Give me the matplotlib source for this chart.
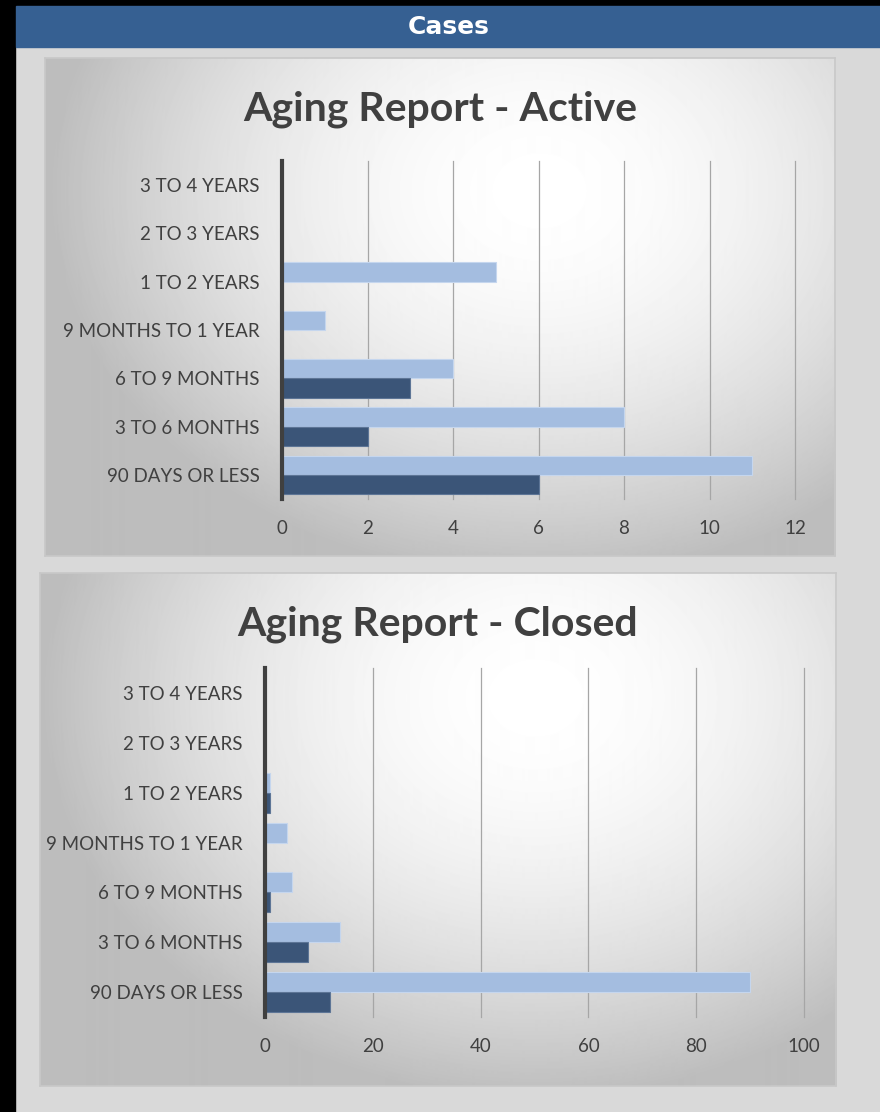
import numpy as np
import matplotlib.pyplot as plt
from matplotlib.patches import Rectangle

categories = ['90 DAYS OR LESS', '3 TO 6 MONTHS', '6 TO 9 MONTHS', '9 MONTHS TO 1 YEAR',
              '1 TO 2 YEARS', '2 TO 3 YEARS', '3 TO 4 YEARS']
active_light = [11, 8, 4, 1, 5, 0, 0]
active_dark = [6, 2, 3, 0, 0, 0, 0]
closed_light = [90, 14, 5, 4, 1, 0, 0]
closed_dark = [12, 8, 1, 0, 1, 0, 0]
active_ticks = [0, 2, 4, 6, 8, 10, 12]
closed_ticks = [0, 20, 40, 60, 80, 100]

W, H = 880, 1112
LIGHT = '#a4bde0'
DARK = '#3b5578'
TEXT = '#404040'

fig = plt.figure(figsize=(W / 100, H / 100), dpi=100)
fig.patch.set_facecolor('#d9d9d9')


def frac(x0, y0, x1, y1):
    return [x0 / W, 1 - y1 / H, (x1 - x0) / W, (y1 - y0) / H]


# black frame + header
fig.add_artist(Rectangle((0, 0), 15 / W, 1, transform=fig.transFigure, color='black', zorder=0))
fig.add_artist(Rectangle((0, 1 - 6 / H), 1, 6 / H, transform=fig.transFigure, color='black', zorder=0))
fig.add_artist(Rectangle((16 / W, 1 - 47 / H), 1, 41 / H, transform=fig.transFigure,
                         color='#366092', zorder=0))
fig.text(449 / W, 1 - 27 / H, 'Cases', color='white', fontsize=18, fontweight='bold',
         family='DejaVu Sans', ha='center', va='center')


def panel(box, center):
    ax = fig.add_axes(frac(*box), zorder=0)
    w = box[2] - box[0]
    h = box[3] - box[1]
    yy, xx = np.mgrid[0:h, 0:w]
    d = np.sqrt(((xx - center[0]) / (w * 0.62)) ** 2 + ((yy - center[1]) / (h * 0.78)) ** 2)
    v = 1 - 0.26 * np.clip(d, 0, 1) ** 1.8
    ax.imshow(v, cmap='gray', vmin=0, vmax=1, aspect='auto', interpolation='bilinear')
    ax.set_xticks([])
    ax.set_yticks([])
    for s in ax.spines.values():
        s.set_color('#c8c8c8')
        s.set_linewidth(1.2)
    return ax


def bars(box, light, dark, ticks, title, title_y, panel_box):
    panel(panel_box, ((box[0] + box[2]) / 2 - panel_box[0], (box[1] - panel_box[1]) + 30))
    fig.text((panel_box[0] + panel_box[2]) / 2 / W, 1 - title_y / H, title, fontsize=29.5,
             fontweight='bold', color=TEXT, family='Lato', ha='center', va='center')
    ax = fig.add_axes(frac(*box), zorder=2)
    ax.patch.set_alpha(0)
    y = np.arange(len(categories))
    ax.barh(y + 0.2, light, height=0.4, color=LIGHT, edgecolor='#c5d6ee', linewidth=0.8, zorder=3)
    ax.barh(y - 0.2, dark, height=0.4, color=DARK, edgecolor='#5d7596', linewidth=0.8, zorder=3)
    ax.set_ylim(-0.5, len(categories) - 0.5)
    ax.set_xlim(ticks[0], ticks[-1])
    ax.set_xticks(ticks)
    ax.set_yticks(y)
    ax.set_yticklabels(categories)
    ax.tick_params(length=0, labelsize=13.5, labelcolor=TEXT)
    ax.tick_params(axis='y', pad=16)
    ax.tick_params(axis='x', pad=15)
    for lab in ax.get_xticklabels() + ax.get_yticklabels():
        lab.set_family('Lato')
    ax.grid(axis='x', color='#a6a6a6', linewidth=0.9, zorder=1)
    for gl in ax.get_xgridlines():
        gl.set_clip_on(False)
    for side in ['top', 'right', 'bottom']:
        ax.spines[side].set_visible(False)
    ax.spines['left'].set_color('#404040')
    ax.spines['left'].set_linewidth(3)
    ax.spines['left'].set_zorder(4)
    return ax


bars((282, 161, 795, 499), active_light, active_dark, active_ticks,
     'Aging Report - Active', 109, (45, 58, 835, 556))
bars((265, 668, 804, 1017), closed_light, closed_dark, closed_ticks,
     'Aging Report - Closed', 624, (40, 573, 836, 1086))

fig.savefig('out.png', dpi=100, facecolor=fig.get_facecolor())
